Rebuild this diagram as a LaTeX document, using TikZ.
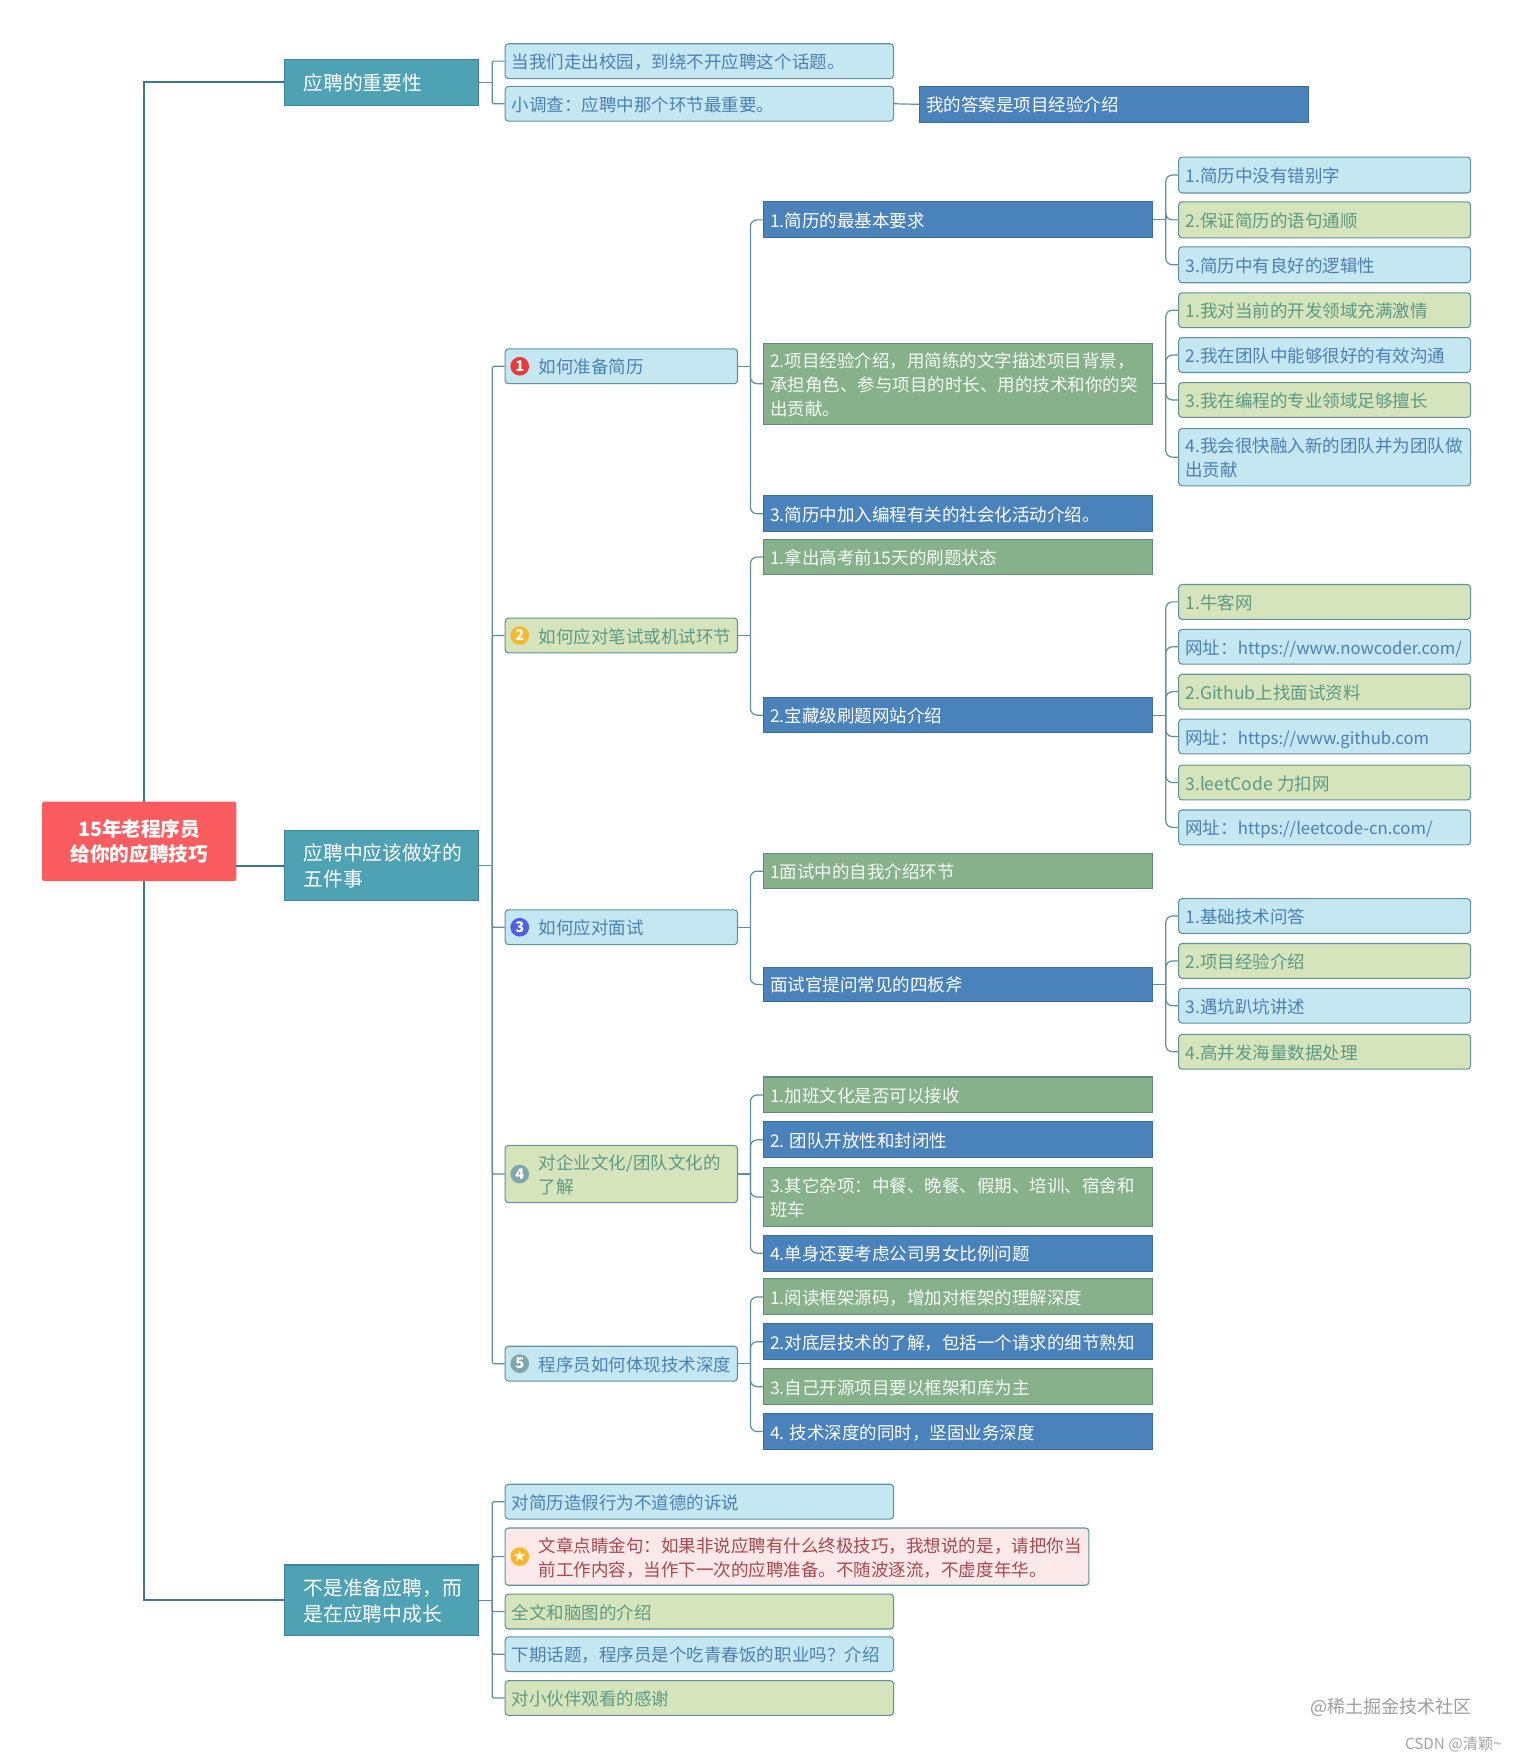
\documentclass[tikz,border=0pt]{standalone}
\usepackage{fontspec}
\setmainfont{Noto Sans CJK SC}
\newfontfamily\symfont{DejaVu Sans}
\definecolor{cRoot}{HTML}{FB5C60}
\definecolor{cTeal}{HTML}{4FA2B3}
\definecolor{cTealE}{HTML}{3F8494}
\definecolor{cLB}{HTML}{C5E7F1}
\definecolor{cLBt}{HTML}{4C80B3}
\definecolor{cLG}{HTML}{D6E4BC}
\definecolor{cLGt}{HTML}{5C9A86}
\definecolor{cDB}{HTML}{4A82BC}
\definecolor{cDBe}{HTML}{3F6E95}
\definecolor{cDG}{HTML}{87B18B}
\definecolor{cDGe}{HTML}{5F8A7A}
\definecolor{cPk}{HTML}{FBE8E9}
\definecolor{cPkt}{HTML}{A9484E}
\definecolor{cEdge}{HTML}{5F929C}
\definecolor{cLine}{HTML}{5F8F99}
\definecolor{cTrunk}{HTML}{3F7888}
\definecolor{cIa}{HTML}{E83A3A}
\definecolor{cIb}{HTML}{F5B82E}
\definecolor{cIc}{HTML}{5060E0}
\definecolor{cId}{HTML}{7FA6AB}
\newcommand{\szS}{\fontsize{13.1}{18}\selectfont}
\newcommand{\szL}{\fontsize{14.8}{19.3}\selectfont}
\tikzset{
  base/.style={draw,inner sep=0pt,line width=0.8pt,font=\szS},
  rootbox/.style={base,fill=cRoot,draw=cRoot,rounded corners=1.5pt,text=white,font=\fontsize{14.7}{18.6}\selectfont\bfseries},
  teal/.style={base,fill=cTeal,draw=cTealE,text=white,font=\szL},
  lblue/.style={base,fill=cLB,draw=cEdge,rounded corners=2.5pt,text=cLBt},
  lgreen/.style={base,fill=cLG,draw=cEdge,rounded corners=2.5pt,text=cLGt},
  pinkbox/.style={base,fill=cPk,draw=cEdge,rounded corners=2.5pt,text=cPkt},
  dblue/.style={base,fill=cDB,draw=cDBe,text=white},
  dgreen/.style={base,fill=cDG,draw=cDGe,text=white!92!cDG},
  lnk/.style={draw=cLine,line width=0.9pt},
  trunk/.style={draw=cTrunk,line width=1.5pt},
  icon/.style={circle,inner sep=0pt,minimum size=14pt,text=white,font=\fontsize{11}{11}\selectfont\bfseries},
  wmark/.style={inner sep=0pt,text=black!38}
}
% style, name, x0, y0, x1, y1, left pad, text
\newcommand{\mmbox}[8]{%
  \pgfmathsetmacro\mmcx{(#3+#5)/2}%
  \pgfmathsetmacro\mmcy{(#4+#6)/2}%
  \pgfmathsetlengthmacro\mmw{(#5-#3)*0.84pt}%
  \pgfmathsetlengthmacro\mmh{(#6-#4)*0.84pt}%
  \pgfmathsetlengthmacro\mmp{#7*0.84pt}%
  \node[#1,minimum width=\mmw,minimum height=\mmh] (#2) at (\mmcx,\mmcy)
    {\makebox[\mmw][l]{\hspace*{\mmp}\raisebox{-2pt}[\height][\depth]{\begin{tabular}{@{}l@{}}#8\end{tabular}}}};%
}
% parent, gap, corner radius, children
\newcommand{\mmtree}[4]{%
  \draw[lnk] (#1.east) -- ++(#2,0) coordinate (mmj);
  \foreach \mmc in {#4} {\draw[lnk,rounded corners=#3pt] (mmj) |- (\mmc.west);}
}
\newcommand{\uu}[1]{{\fontsize{12.5}{18}\selectfont #1}}
\begin{document}
\begin{tikzpicture}[x=0.84pt,y=-0.8395pt]
\useasboundingbox (0,0) rectangle (1347,1567.9);
\fill[white] (0,0) rectangle (1347,1567.9);
% root
\node[rootbox,minimum width=144.5pt,minimum height=58.8pt] (root) at (124,750) {\raisebox{-2pt}[\height][\depth]{\begin{tabular}{@{}c@{}}15年老程序员\\给你的应聘技巧\end{tabular}}};
% level 1
\mmbox{teal}{La}{253.5}{53}{426}{94}{17}{应聘的重要性}
\mmbox{teal}{Lb}{253.5}{740}{426}{803}{17}{应聘中应该做好的\\五件事}
\mmbox{teal}{Lc}{253.5}{1395}{426}{1458}{17}{不是准备应聘，而\\是在应聘中成长}
% group a
\mmbox{lblue}{a1}{450}{39}{796}{70}{6}{当我们走出校园，到绕不开应聘这个话题。}
\mmbox{lblue}{a2}{450}{77}{796}{108}{6}{小调查：应聘中那个环节最重要。}
\mmbox{dblue}{a3}{819}{77}{1166}{109}{6}{我的答案是项目经验介绍}
% group b level 2
\mmbox{lblue}{b1}{450}{311}{657}{342}{30}{如何准备简历}
\mmbox{lgreen}{b2}{450}{551}{657}{582}{30}{如何应对笔试或机试环节}
\mmbox{lblue}{b3}{450}{811}{657}{842}{30}{如何应对面试}
\mmbox{lgreen}{b4}{450}{1021}{657}{1072}{30}{对企业文化/团队文化的\\了解}
\mmbox{lblue}{b5}{450}{1200}{657}{1231}{30}{程序员如何体现技术深度}
\node[icon,fill=cIa] (i1) at (463,326.5) {1};
\node[icon,fill=cIb] (i2) at (463,566.5) {2};
\node[icon,fill=cIc] (i3) at (463,826.5) {3};
\node[icon,fill=cId] (i4) at (463,1046.5) {4};
\node[icon,fill=cId] (i5) at (463,1215.5) {5};
% group c
\mmbox{lblue}{c1}{450}{1323}{796}{1354}{6}{对简历造假行为不道德的诉说}
\mmbox{pinkbox}{c2}{450}{1362}{970}{1413}{30}{文章点睛金句：如果非说应聘有什么终极技巧，我想说的是，请把你当\\前工作内容，当作下一次的应聘准备。不随波逐流，不虚度年华。}
\mmbox{lgreen}{c3}{450}{1421}{796}{1452}{6}{全文和脑图的介绍}
\mmbox{lblue}{c4}{450}{1459}{796}{1490}{6}{下期话题，程序员是个吃青春饭的职业吗？介绍}
\mmbox{lgreen}{c5}{450}{1498}{796}{1529}{6}{对小伙伴观看的感谢}
\node[icon,fill=cIb,font=\symfont\fontsize{11}{11}\selectfont] (i6) at (463,1387.5) {★};
% level 3
\mmbox{dblue}{b11}{680}{180}{1027}{212}{6}{1.简历的最基本要求}
\mmbox{dgreen}{b12}{680}{306}{1027}{378}{6}{2.项目经验介绍，用简练的文字描述项目背景，\\承担角色、参与项目的时长、用的技术和你的突\\出贡献。}
\mmbox{dblue}{b13}{680}{442}{1027}{474}{6}{3.简历中加入编程有关的社会化活动介绍。}
\mmbox{dgreen}{b21}{680}{481}{1027}{512}{6}{1.拿出高考前15天的刷题状态}
\mmbox{dblue}{b22}{680}{622}{1027}{653}{6}{2.宝藏级刷题网站介绍}
\mmbox{dgreen}{b31}{680}{761}{1027}{792}{6}{1面试中的自我介绍环节}
\mmbox{dblue}{b32}{680}{862}{1027}{893}{6}{面试官提问常见的四板斧}
\mmbox{dgreen}{b41}{680}{960}{1027}{992}{6}{1.加班文化是否可以接收}
\mmbox{dblue}{b42}{680}{1000}{1027}{1032}{6}{2. 团队开放性和封闭性}
\mmbox{dgreen}{b43}{680}{1041}{1027}{1093}{6}{3.其它杂项：中餐、晚餐、假期、培训、宿舍和\\班车}
\mmbox{dblue}{b44}{680}{1101}{1027}{1133}{6}{4.单身还要考虑公司男女比例问题}
\mmbox{dgreen}{b51}{680}{1140}{1027}{1172}{6}{1.阅读框架源码，增加对框架的理解深度}
\mmbox{dblue}{b52}{680}{1180}{1027}{1212}{6}{2.对底层技术的了解，包括一个请求的细节熟知}
\mmbox{dgreen}{b53}{680}{1220}{1027}{1252}{6}{3.自己开源项目要以框架和库为主}
\mmbox{dblue}{b54}{680}{1260}{1027}{1292}{6}{4. 技术深度的同时，坚固业务深度}
% level 4
\mmbox{lblue}{d1}{1050}{140}{1310}{172}{6}{1.简历中没有错别字}
\mmbox{lgreen}{d2}{1050}{180}{1310}{212}{6}{2.保证简历的语句通顺}
\mmbox{lblue}{d3}{1050}{220}{1310}{252}{6}{3.简历中有良好的逻辑性}
\mmbox{lgreen}{e1}{1050}{261}{1310}{292}{6}{1.我对当前的开发领域充满激情}
\mmbox{lblue}{e2}{1050}{301}{1310}{332}{6}{2.我在团队中能够很好的有效沟通}
\mmbox{lgreen}{e3}{1050}{341}{1310}{372}{6}{3.我在编程的专业领域足够擅长}
\mmbox{lblue}{e4}{1050}{382}{1310}{433}{6}{4.我会很快融入新的团队并为团队做\\出贡献}
\mmbox{lgreen}{f1}{1050}{521}{1310}{552}{6}{1.牛客网}
\mmbox{lblue}{f2}{1050}{561}{1310}{592}{6}{网址：\uu{https://www.nowcoder.com/}}
\mmbox{lgreen}{f3}{1050}{601}{1310}{632}{6}{2.Github上找面试资料}
\mmbox{lblue}{f4}{1050}{641}{1310}{672}{6}{网址：\uu{https://www.github.com}}
\mmbox{lgreen}{f5}{1050}{682}{1310}{713}{6}{3.leetCode 力扣网}
\mmbox{lblue}{f6}{1050}{722}{1310}{753}{6}{网址：\uu{https://leetcode-cn.com/}}
\mmbox{lblue}{g1}{1050}{801}{1310}{832}{6}{1.基础技术问答}
\mmbox{lgreen}{g2}{1050}{841}{1310}{872}{6}{2.项目经验介绍}
\mmbox{lblue}{g3}{1050}{881}{1310}{912}{6}{3.遇坑趴坑讲述}
\mmbox{lgreen}{g4}{1050}{922}{1310}{953}{6}{4.高并发海量数据处理}
% watermarks
\node[wmark,anchor=east,font=\fontsize{13.5}{14}\selectfont] (w1) at (1311,1522) {@稀土掘金技术社区};
\node[wmark,anchor=east,text=black!36,font=\fontsize{11.4}{12}\selectfont] (w2) at (1338,1555) {CSDN @清颖\textasciitilde};
% connectors
\draw[trunk] ([xshift=3.4pt]root.north) |- (La.west);
\draw[trunk] ([xshift=3.4pt]root.south) |- (Lc.west);
\draw[trunk] (root.east |- Lb.west) -- (Lb.west);
\mmtree{La}{12}{1}{a1,a2}
\draw[lnk] (a2.east) -- (a3.west);
\mmtree{Lb}{12}{1}{b1,b2,b3,b4,b5}
\mmtree{Lc}{12}{1}{c1,c2,c3,c4,c5}
\mmtree{b1}{11}{5}{b11,b12,b13}
\mmtree{b2}{11}{5}{b21,b22}
\mmtree{b3}{11}{5}{b31,b32}
\mmtree{b4}{11}{5}{b41,b42,b43,b44}
\mmtree{b5}{11}{5}{b51,b52,b53,b54}
\mmtree{b11}{11}{5}{d1,d2,d3}
\mmtree{b12}{11}{5}{e1,e2,e3,e4}
\mmtree{b22}{11}{5}{f1,f2,f3,f4,f5,f6}
\mmtree{b32}{11}{5}{g1,g2,g3,g4}
\end{tikzpicture}
\end{document}
